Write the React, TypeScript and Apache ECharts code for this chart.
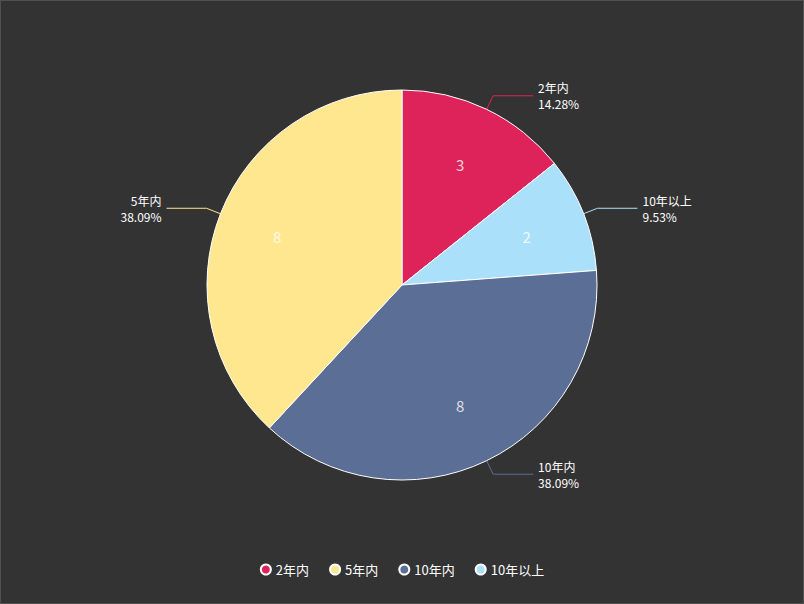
import React, { useEffect, useRef } from "react";
import * as echarts from "echarts";

// Pie order (clockwise from top)
const categories = ["2年内", "10年以上", "10年内", "5年内"];
const values = [3, 2, 8, 8];
const percentLabels = ["14.28%", "9.53%", "38.09%", "38.09%"];
const colors = ["#dd2359", "#abe0fb", "#5b6e96", "#ffe790"];
// Legend order
const legendOrder = ["2年内", "5年内", "10年内", "10年以上"];

const FONT = "'Noto Sans CJK SC', 'Noto Sans', sans-serif";

export default function App() {
  const ref = useRef<HTMLDivElement>(null);

  useEffect(() => {
    if (!ref.current) return;
    const chart = echarts.init(ref.current, undefined, { renderer: "svg" });
    const mainData = categories.map((name, i) => ({
      name,
      value: values[i],
      itemStyle: { color: colors[i] },
    }));
    const labelData = categories.map((name, i) => ({
      name,
      value: values[i],
    }));
    chart.setOption({
      animation: false,
      backgroundColor: "#333333",
      textStyle: { fontFamily: FONT },
      legend: {
        data: legendOrder,
        bottom: 22,
        left: "center",
        icon: "circle",
        itemWidth: 10,
        itemHeight: 10,
        itemGap: 20,
        textStyle: { color: "#ffffff", fontSize: 13, fontFamily: FONT },
      },
      series: [
        {
          name: "main",
          type: "pie",
          center: [401, 284],
          radius: [0, 195],
          startAngle: 90,
          clockwise: true,
          data: mainData,
          itemStyle: { borderColor: "#ffffff", borderWidth: 1 },
          label: {
            show: true,
            position: "outside",
            color: "#ffffff",
            fontSize: 12,
            lineHeight: 16,
            fontFamily: FONT,
            formatter: (p: any) => `${p.name}\n${percentLabels[p.dataIndex]}`,
          },
          labelLine: { show: true, length: 15, length2: 40 },
          emphasis: { disabled: true },
        },
        {
          name: "inner",
          type: "pie",
          z: 3,
          silent: true,
          center: [401, 284],
          radius: [0, 262],
          startAngle: 90,
          clockwise: true,
          data: labelData,
          itemStyle: { color: "transparent", borderWidth: 0 },
          label: {
            show: true,
            position: "inside",
            color: "rgba(255,255,255,0.8)",
            fontSize: 15,
            fontFamily: FONT,
            formatter: (p: any) => `${p.value}`,
          },
          labelLine: { show: false },
          emphasis: { disabled: true },
          legendHoverLink: false,
        },
      ],
    });
    return () => chart.dispose();
  }, []);

  return (
    <div
      style={{
        position: "fixed",
        left: 0,
        top: 0,
        width: 804,
        height: 604,
        boxSizing: "border-box",
        border: "1px solid #505050",
        background: "#333333",
      }}
    >
      <div ref={ref} style={{ width: 802, height: 602 }} />
    </div>
  );
}
